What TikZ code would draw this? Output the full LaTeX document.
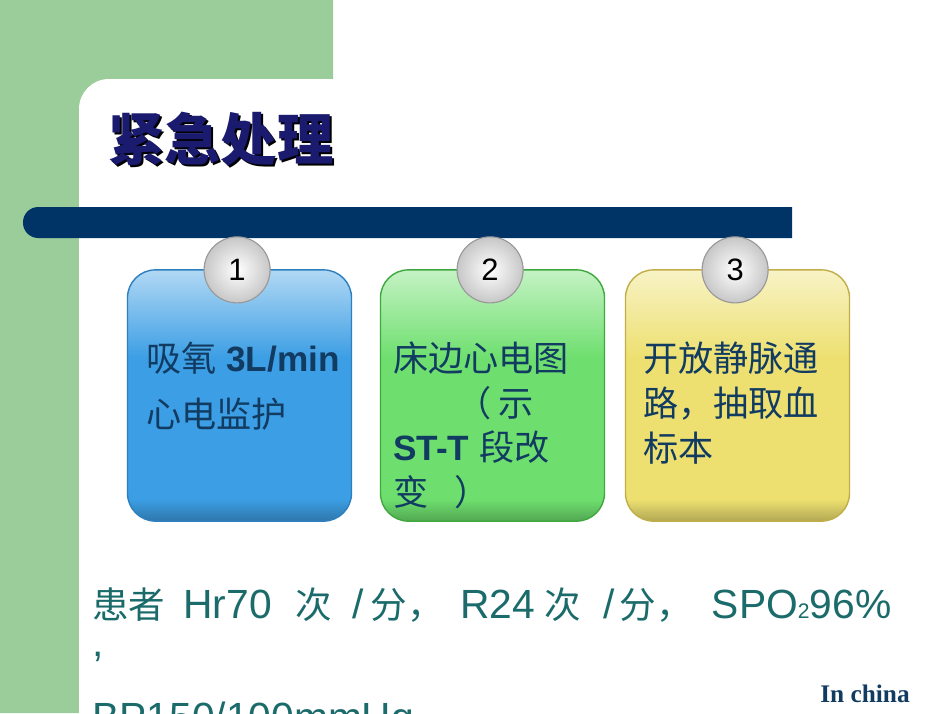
\documentclass[tikz,border=0pt]{standalone}
\usepackage{fontspec}
\setmainfont{Liberation Sans}
\newfontfamily\cjk{Noto Sans CJK SC}
\newfontfamily\enserif{Liberation Serif}
\usepackage{tikz}
\definecolor{sidegreen}{HTML}{9ACD9A}
\definecolor{barnavy}{HTML}{003366}
\definecolor{titlenavy}{HTML}{1A1A6E}
\definecolor{cardtextblue}{HTML}{123B62}
\definecolor{infoteal}{HTML}{1B6B6B}
\definecolor{cardblue}{HTML}{3C9EE4}
\definecolor{cardblueedge}{HTML}{2E7FC0}
\definecolor{cardgreen}{HTML}{6EDF6E}
\definecolor{cardgreenedge}{HTML}{3FA83F}
\definecolor{cardyellow}{HTML}{EDE070}
\definecolor{cardyellowedge}{HTML}{C2AE48}
\newcommand{\zh}[1]{{\cjk #1}}
\newcommand{\zhs}[1]{{\cjk\fontsize{26}{26}\selectfont #1}}

\begin{document}
\begin{tikzpicture}[x=0.025cm, y=-0.025cm, line cap=round,
    card/.style={rectangle, minimum width=5.6cm, minimum height=6.28cm,
                 inner sep=0pt, outer sep=0pt},
    num/.style={circle, draw=black!40, line width=0.8pt, inner color=white,
                outer color=black!22, minimum size=1.65cm, inner sep=0pt,
                font=\fontsize{22}{22}\selectfont},
    cardtext/.style={anchor=base west, inner sep=0pt, text=cardtextblue,
                     font=\fontsize{25}{30}\selectfont},
    info/.style={anchor=base west, inner sep=0pt, text=infoteal,
                 font=\fontsize{29}{29}\selectfont}]

  % ---- page: white slide with the green frame at the top left --------------
  \clip (0,0) rectangle (950,713);
  \fill[white] (0,0) rectangle (950,713);
  \fill[sidegreen] (0,0) -- (333,0) -- (333,130) -- (130,130) -- (130,713)
                   -- (0,713) -- cycle;
  \fill[white, rounded corners=0.75cm] (79,79) rectangle (1000,800);

  % ---- title and the navy bar under it ------------------------------------
  \node[anchor=base west, inner sep=0pt, black,
        font=\cjk\bfseries\fontsize{40}{40}\selectfont] (titleshade) at (110,162) {紧急处理};
  \node[anchor=base west, inner sep=0pt, titlenavy,
        font=\cjk\bfseries\fontsize{40}{40}\selectfont] (title) at (108,160) {紧急处理};
  \fill[barnavy, rounded corners=0.38cm] (792,207) -- (23,207) -- (23,238) -- (792,238);

  % ---- three glossy cards, each with its numbered ball on top -------------
  \foreach \n/\cx/\col in {1/239.5/cardblue, 2/492.5/cardgreen, 3/737.5/cardyellow}{
    \node[card] (card\n) at (\cx,395.5) {};
    \begin{scope}
      \clip[rounded corners=0.7cm] (card\n.north west) rectangle (card\n.south east);
      \fill[\col] (card\n.north west) rectangle (card\n.south east);
      % light gloss over the top, darker rim along the bottom
      \fill[top color=\col!40!white, bottom color=\col]
        (card\n.north west) rectangle ([yshift=-2.2cm]card\n.north east);
      \fill[top color=\col, bottom color=\col!75!black]
        ([yshift=0.55cm]card\n.south west) rectangle (card\n.south east);
    \end{scope}
    \draw[\col edge, line width=1pt, rounded corners=0.7cm]
      (card\n.north west) rectangle (card\n.south east);
    \node[num] (num\n) at ([xshift=-0.06cm]card\n.north) {\n};}

  % ---- what goes in each card ---------------------------------------------
  \foreach \y/\t [count=\i] in {371/{\zh{吸氧} \textbf{3L/min}}, 427/{\zh{心电监护}}}
    \node[cardtext] (stepa\i) at (146,\y) {\t};
  \foreach \y/\t [count=\i] in {371/{\zh{床边心电图}}, 416/{\hspace*{1.8em}\zh{（\hspace{0.2em}示}},
                                460/{\textbf{ST-T} \zh{段改}}, 505/{\zh{变\hspace{0.75em}）}}}
    \node[cardtext] (stepb\i) at (393,\y) {\t};
  \foreach \y/\t [count=\i] in {371/{\zh{开放静脉通}}, 416/{\zh{路，抽取血}}, 461/{\zh{标本}}}
    \node[cardtext] (stepc\i) at (643,\y) {\t};

  % ---- vital signs below the cards, and the corner mark -------------------
  \node[info] (info1) at (92,618) {\zhs{患者}\hspace{0.45cm}Hr70\hspace{0.6cm}\zhs{次}%
    \hspace{0.5cm}/\hspace{0.18cm}\zhs{分，}\hspace{0.4cm}R24\hspace{0.25cm}\zhs{次}%
    \hspace{0.55cm}/\hspace{0.12cm}\zhs{分，}\hspace{0.48cm}SPO%
    {\fontsize{15}{15}\selectfont 2}96\%};
  \node[info] (info2) at (92,656) {,};
  \node[info] (info3) at (92,731) {BP150/100mmHg};
  \node[anchor=base east, inner sep=0pt, cardtextblue,
        font=\enserif\bfseries\fontsize{18}{18}\selectfont] (mark) at (910,702) {In china};
\end{tikzpicture}
\end{document}
